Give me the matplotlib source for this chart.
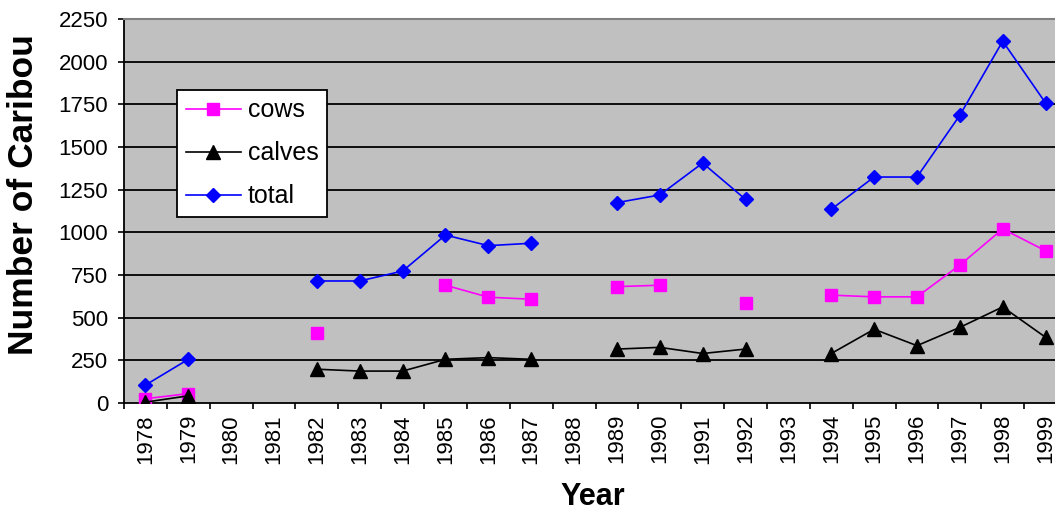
import numpy as np
import matplotlib
matplotlib.use('Agg')
from matplotlib import pyplot as plt

plt.rcParams['font.family'] = ['Liberation Sans', 'DejaVu Sans']

nan = np.nan
years = ['1978', '1979', '1980', '1981', '1982', '1983', '1984', '1985', '1986', '1987', '1988',
         '1989', '1990', '1991', '1992', '1993', '1994', '1995', '1996', '1997', '1998', '1999']
cows = [25, 55, nan, nan, 410, nan, nan, 690, 620, 608, nan,
        682, 690, nan, 588, nan, 632, 622, 622, 808, 1020, 892]
calves = [5, 42, nan, nan, 198, 187, 187, 256, 266, 256, nan,
          316, 326, 290, 316, nan, 290, 432, 336, 443, 563, 385]
total = [105, 256, nan, nan, 715, 715, 773, 984, 922, 936, nan,
         1174, 1219, 1406, 1193, nan, 1135, 1324, 1324, 1686, 2120, 1758]
yticks = [0, 250, 500, 750, 1000, 1250, 1500, 1750, 2000, 2250]


def plot_chart(filename):
    fig = plt.figure(figsize=(10.55, 5.13), dpi=100)
    # plot area runs past the right edge of the picture, as in the original
    ax = fig.add_axes([124 / 1055, 110 / 513, 943 / 1055, 384 / 513])
    ax.set_facecolor('#C0C0C0')

    x = np.arange(len(years))
    for v in yticks[1:-1]:
        ax.axhline(v, color='black', lw=1.3, zorder=1)

    ax.plot(x, cows, '-s', color='#FF00FF', lw=1.2, ms=8.5, label='cows', zorder=3)
    ax.plot(x, calves, '-^', color='black', lw=1.2, ms=9.5, label='calves', zorder=3)
    ax.plot(x, total, '-D', color='#0000FF', lw=1.2, ms=7.5, label='total', zorder=3)

    ax.set_xlim(-0.5, len(years) - 0.5)
    ax.set_ylim(0, 2250)
    ax.set_yticks(yticks)
    ax.set_yticklabels([str(v) for v in yticks], fontsize=16)
    ax.tick_params(axis='y', direction='out', length=4.5, width=1.2, pad=7)

    ax.set_xticks(x)
    ax.set_xticklabels(years, rotation=90, fontsize=16, va='top')
    ax.tick_params(axis='x', which='major', length=0, pad=8)
    ax.set_xticks(np.arange(len(years) + 1) - 0.5, minor=True)
    ax.tick_params(axis='x', which='minor', direction='out', length=4.5, width=1.2)

    ax.spines['top'].set_color('#808080')
    ax.spines['top'].set_linewidth(1.5)
    ax.spines['right'].set_visible(False)
    ax.spines['left'].set_linewidth(1.3)
    ax.spines['bottom'].set_linewidth(1.3)

    leg = ax.legend(loc='upper left', bbox_to_anchor=(0.0565, 0.815), fontsize=18,
                    frameon=True, fancybox=False, framealpha=1, edgecolor='black',
                    handlelength=2.2, handletextpad=0.3, labelspacing=0.76,
                    borderpad=0.33, borderaxespad=0)
    leg.get_frame().set_linewidth(1.3)

    fig.text(24 / 1055, 1 - 195 / 513, 'Number of Caribou', rotation=90, fontsize=25.5,
             fontweight='bold', ha='center', va='center')
    fig.text(593 / 1055, 1 - 497 / 513, 'Year', fontsize=22, fontweight='bold',
             ha='center', va='center')

    fig.savefig(filename, dpi=100)


if __name__ == '__main__':
    plot_chart('out.png')
